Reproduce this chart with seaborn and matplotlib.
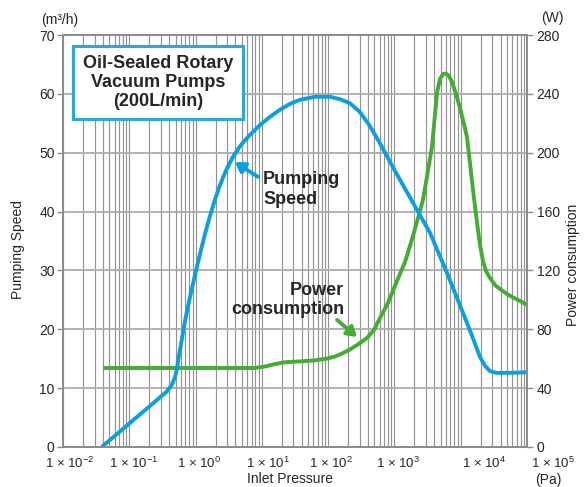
import matplotlib
matplotlib.use("Agg")
import numpy as np
import pandas as pd
import matplotlib.pyplot as plt
from matplotlib.patches import Rectangle
from matplotlib.ticker import LogLocator, NullLocator, NullFormatter
import seaborn as sns

# Pumping speed curve (m3/h) against inlet pressure (Pa)
speed_pressure = [0.03836, 0.3666, 0.4362, 0.4892, 0.5189, 0.5485, 0.5821, 0.6925,
                  0.8237, 0.9800, 1.166, 1.387, 1.650, 1.963, 2.336, 2.877, 3.668,
                  4.678, 6.177, 9.371, 13.27, 18.77, 26.57, 37.60, 63.30, 106.6, 150.9,
                  213.5, 302.2, 427.8, 605.3, 1055, 1905, 3437, 6203, 10816,
                  14785, 19525, 23227, 27632, 34033, 55350, 100000]
speed_values = [0.0, 9.4, 10.5, 11.9, 13.1, 14.8, 16.5, 21.4,
                25.5, 29.2, 32.8, 36.2, 39.25, 42.05, 44.5, 47.0, 49.3,
                51.1, 52.7, 54.7, 56.1, 57.3, 58.3, 59.0, 59.5, 59.5, 59.1,
                58.4, 56.9, 54.5, 51.6, 46.6, 41.5, 36.4, 29.6, 22.8,
                18.9, 15.3, 13.8, 12.9, 12.6, 12.6, 12.7]

# Power consumption curve (W) against inlet pressure (Pa)
power_pressure = [0.04012, 7.878, 11.15, 15.79, 22.34, 37.60, 63.30, 96.05, 126.8,
                  161.8, 213.5, 281.9, 385.3, 491.4, 605.3, 799.1, 1093, 1443,
                  1905, 2266, 2696, 3685, 4383, 4866, 5400, 5993, 6652, 7382,
                  8483, 9746, 11199, 12430, 13796, 15311, 17591, 19525, 21669,
                  24050, 27632, 32874, 39110, 49885, 63610, 78343, 100000]
power_values = [53.7, 53.7, 54.7, 56.4, 57.6, 58.2, 58.9, 60.1, 61.5,
                63.5, 66.3, 69.7, 74.1, 79.5, 87.7, 97.9, 112.8, 125.7,
                143.4, 155.6, 167.9, 203.9, 240.6, 250.1, 253.5, 253.8, 252.1, 248.1,
                239.9, 230.4, 219.5, 210.7, 193.0, 174.7, 152.9, 137.3, 126.4,
                119.6, 114.9, 110.1, 107.4, 104.0, 101.3, 99.3, 96.5]

speed_ticks = [0, 10, 20, 30, 40, 50, 60, 70]
power_ticks = [0, 40, 80, 120, 160, 200, 240, 280]
pressure_labels = ["1 × 10$^{-2}$", "1 × 10$^{-1}$", "1 × 10$^{0}$", "1 × 10$^{1}$",
                   "1 × 10$^{2}$", "1 × 10$^{3}$", "1 × 10$^{4}$", "1 × 10$^{5}$"]
pressure_label_at = [0.01245, 0.1164, 1.122, 12.27, 112.2, 1135, 22340, 248000]

BLUE = "#0a9fe3"
GREEN = "#43ad33"
FRAME = "#8c8c8c"

sns.set_style("white")
plt.rcParams["font.family"] = ["Liberation Sans", "DejaVu Sans"]
plt.rcParams["mathtext.fontset"] = "custom"
plt.rcParams["mathtext.rm"] = "Liberation Sans"
plt.rcParams["mathtext.it"] = "Liberation Sans:italic"
plt.rcParams["mathtext.bf"] = "Liberation Sans:bold"

W, H = 584, 487
fig = plt.figure(figsize=(W / 100, H / 100), dpi=100)
fig.patch.set_facecolor("white")

x0, x1, ytop, ybot = 63, 527, 35, 447
ax = fig.add_axes([x0 / W, 1 - ybot / H, (x1 - x0) / W, (ybot - ytop) / H])
ax.set_xscale("log")
ax2 = ax.twinx()
ax2.xaxis.set_visible(True)
ax.set_zorder(ax2.get_zorder() + 1)
ax.patch.set_visible(False)
ax2.patch.set_visible(False)

ax.set_xlim(1e-2, 1e5)
ax.set_ylim(0, 70)
ax2.set_ylim(0, 280)

# log grid: every 1..9 x 10^k line
ax.xaxis.set_major_locator(NullLocator())
ax.xaxis.set_minor_locator(LogLocator(base=10, subs=np.arange(1, 10), numticks=100))
ax.xaxis.set_minor_formatter(NullFormatter())
for a in (ax, ax2):
    a.tick_params(axis="x", which="both", length=0, labelbottom=False,
                  labeltop=False, bottom=False, top=False)

ax.set_yticks(speed_ticks)
ax2.set_yticks(power_ticks)
ax.tick_params(axis="y", direction="out", length=4, width=1, color=FRAME,
               labelsize=10, pad=2)
ax2.tick_params(axis="y", direction="out", length=4, width=1, color=FRAME,
                labelsize=10, pad=3)

ax2.grid(which="minor", axis="x", color="#939393", lw=0.85)
ax2.grid(which="major", axis="x", visible=False)
ax2.grid(which="major", axis="y", color="#ababab", lw=1.3)
ax.grid(False)

for a in (ax, ax2):
    for s in a.spines.values():
        s.set_color(FRAME)
        s.set_linewidth(1.4)
        s.set_visible(True)

power_df = pd.DataFrame({"pressure": power_pressure, "power": power_values})
speed_df = pd.DataFrame({"pressure": speed_pressure, "speed": speed_values})
sns.lineplot(data=power_df, x="pressure", y="power", ax=ax2, color=GREEN,
             lw=2.8, sort=False, solid_joinstyle="round", solid_capstyle="butt")
sns.lineplot(data=speed_df, x="pressure", y="speed", ax=ax, color=BLUE,
             lw=2.8, sort=False, solid_joinstyle="round", solid_capstyle="butt")
ax.set_xlabel("")
ax.set_ylabel("")
ax2.set_xlabel("")
ax2.set_ylabel("")
ax.set_xlim(1e-2, 1e5)
ax.set_ylim(0, 70)
ax2.set_ylim(0, 280)

# pressure labels under the axis
xt = ax.get_xaxis_transform()
for pos, lab in zip(pressure_label_at, pressure_labels):
    ax.text(pos, -0.022, lab, transform=xt, ha="center", va="top",
            fontsize=9.5, clip_on=False)

def fx(px):
    return px / W

def fy(py):
    return 1 - py / H

fig.text(fx(60), fy(20), "(m³/h)", ha="center", va="center", fontsize=10)
fig.text(fx(552), fy(18), "(W)", ha="center", va="center", fontsize=10)
fig.text(fx(290), fy(479), "Inlet Pressure", ha="center", va="center", fontsize=10)
fig.text(fx(548), fy(480), "(Pa)", ha="center", va="center", fontsize=10)
fig.text(fx(18), fy(250), "Pumping Speed", rotation=90, ha="center", va="center",
         fontsize=10)
fig.text(fx(573), fy(265), "Power consumption", rotation=90, ha="center",
         va="center", fontsize=10)

# title box
bx0, bx1, by0, by1 = 73, 243, 46, 119
ax.add_patch(Rectangle(((bx0 - x0) / (x1 - x0), (ybot - by1) / (ybot - ytop)),
                       (bx1 - bx0) / (x1 - x0), (by1 - by0) / (ybot - ytop),
                       transform=ax.transAxes, facecolor="white", edgecolor="#2ea6df",
                       lw=2.2, zorder=5))
ax.text(((bx0 + bx1) / 2 - x0) / (x1 - x0), (ybot - (by0 + by1) / 2) / (ybot - ytop),
        "Oil-Sealed Rotary\nVacuum Pumps\n(200L/min)", transform=ax.transAxes,
        ha="center", va="center", multialignment="center", fontsize=13,
        fontweight="bold", linespacing=1.15, zorder=6)

# curve callouts
ax.annotate("", xy=(3.93, 48.4), xytext=(8.74, 45.9),
            arrowprops=dict(arrowstyle="-|>,head_length=0.55,head_width=0.35",
                            color=BLUE, lw=2.8, shrinkA=0, shrinkB=0), zorder=6)
ax.text(10.4, 43.7, "Pumping\nSpeed", ha="left", va="center", fontsize=13,
        fontweight="bold", linespacing=1.2, zorder=6)
ax.annotate("", xy=(272, 18.7), xytext=(136, 21.6),
            arrowprops=dict(arrowstyle="-|>,head_length=0.55,head_width=0.35",
                            color=GREEN, lw=2.8, shrinkA=0, shrinkB=0), zorder=6)
ax.text(175, 25.0, "Power\nconsumption", ha="right", va="center", fontsize=13,
        fontweight="bold", multialignment="right", linespacing=1.2, zorder=6)

fig.savefig("out.png", dpi=100, facecolor="white")
